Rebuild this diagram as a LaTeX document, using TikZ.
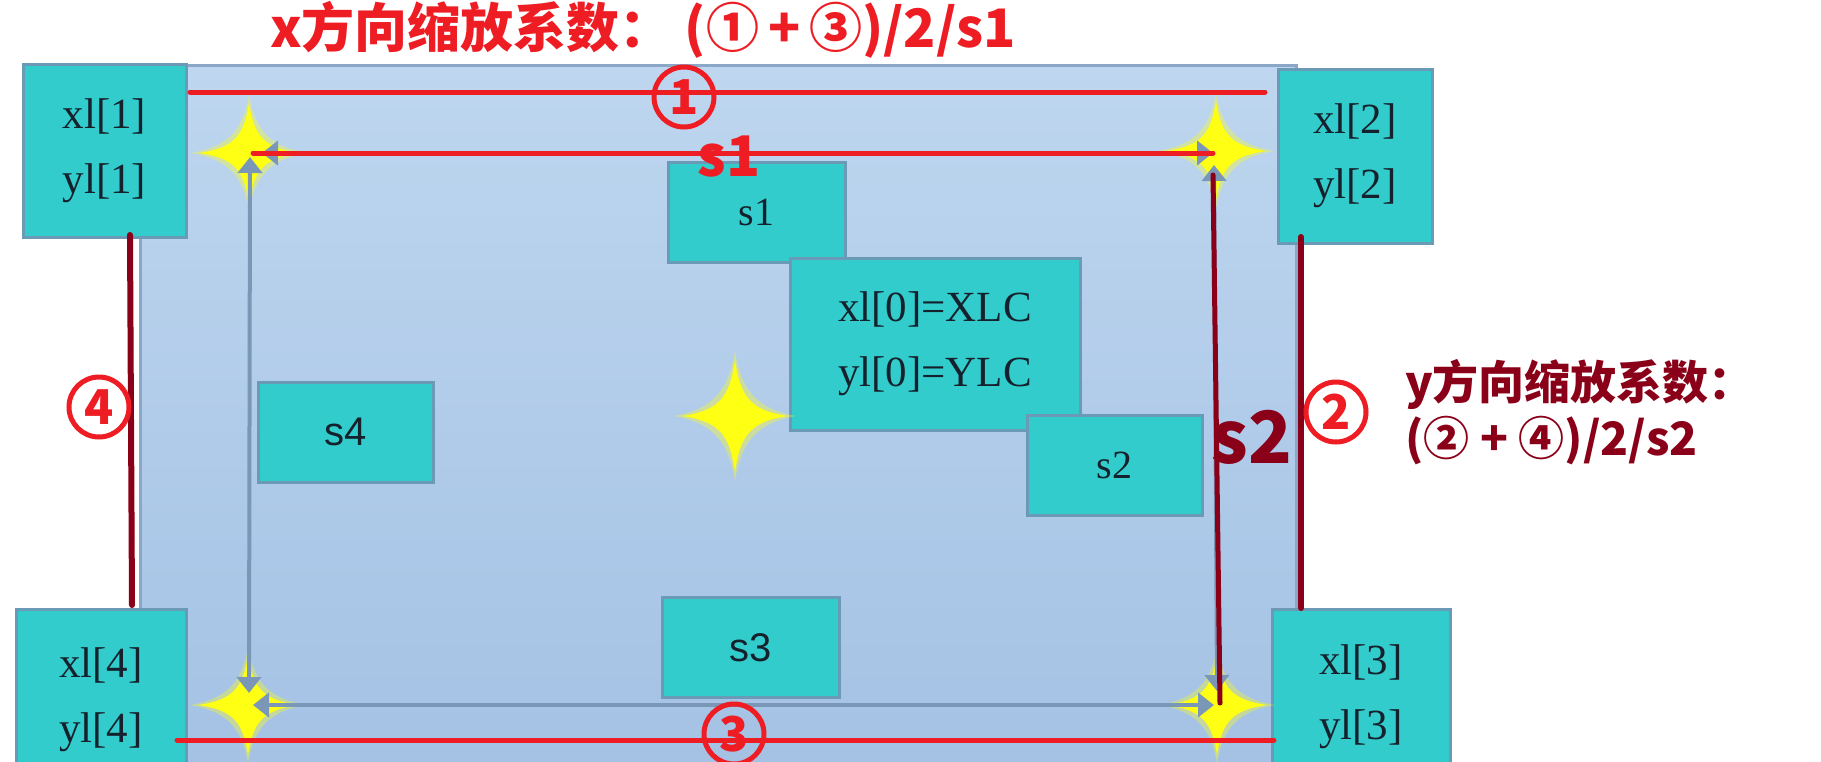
\documentclass[tikz,border=0pt]{standalone}
\usepackage{fontspec}
\setmainfont{Liberation Serif}
\newfontfamily\cjk{Noto Sans CJK SC}
\newfontfamily\lsans{Liberation Sans}
\usetikzlibrary{arrows.meta}
\definecolor{rectA}{HTML}{BED6EF}
\definecolor{rectB}{HTML}{A3C1E4}
\definecolor{rectBorder}{HTML}{8BA7C7}
\definecolor{tealfill}{HTML}{33CCCC}
\definecolor{tealline}{HTML}{6B9AB6}
\definecolor{boxtext}{HTML}{15222D}
\definecolor{arrowgray}{HTML}{7B97B8}
\definecolor{brightred}{HTML}{EE1D24}
\definecolor{darkred}{HTML}{8B0019}
\definecolor{staryellow}{HTML}{FFFF14}
\tikzset{
  sparkle/.pic={
    \fill[staryellow, opacity=0.35] (0,-58) .. controls (6,-22) and (22,-6) .. (58,0) .. controls (22,6) and (6,22) .. (0,58) .. controls (-6,22) and (-22,6) .. (-58,0) .. controls (-22,-6) and (-6,-22) .. cycle;
    \fill[staryellow] (0,-50) .. controls (5,-16) and (16,-5) .. (50,0) .. controls (16,5) and (5,16) .. (0,50) .. controls (-5,16) and (-16,5) .. (-50,0) .. controls (-16,-5) and (-5,-16) .. cycle;
  },
  tealbox/.style={draw=tealline, line width=3pt, fill=tealfill, text=boxtext, align=center, inner sep=0pt, font=\fontsize{43}{65}\selectfont},
  sbox/.style={tealbox, minimum height=100pt, font=\fontsize{40}{44}\selectfont},
  grayarrow/.style={draw=arrowgray, line width=4pt, {Triangle[length=16pt,width=24pt]}-{Triangle[length=16pt,width=24pt]}},
  redline/.style={draw=brightred, line width=5pt, line cap=round},
  darkline/.style={draw=darkred, line width=6pt, line cap=round},
  circlab/.style={circle, draw=brightred, line width=5pt, minimum size=60pt, inner sep=0pt, text=brightred, font=\fontsize{48}{48}\cjk\bfseries},
}
\begin{document}
\begin{tikzpicture}[x=1pt,y=-1pt]
\useasboundingbox (0,0) rectangle (1821,761);
\clip (0,0) rectangle (1821,761);
\fill[white] (0,0) rectangle (1821,761);
% big panel
\draw[rectBorder, line width=3pt, top color=rectA, bottom color=rectB] (140,65) rectangle (1296,800);
% teal boxes
\node[tealbox, minimum width=163pt, minimum height=173pt] (p1) at (104.5,150.5) {xl[1]\\yl[1]};
\node[tealbox, minimum width=154pt, minimum height=174pt] (p2) at (1355,156) {xl[2]\\yl[2]};
\node[tealbox, minimum width=170pt, minimum height=181pt] (p4) at (101,699.5) {xl[4]\\yl[4]};
\node[tealbox, minimum width=178pt, minimum height=176pt] (p3) at (1361,697) {xl[3]\\yl[3]};
\node[sbox, minimum width=177pt] (s1) at (756.5,212) {s1};
\node[tealbox, minimum width=290pt, minimum height=172pt] (p0) at (935,344) {xl[0]=XLC\\yl[0]=YLC};
\node[sbox, minimum width=175pt] (s2) at (1114.5,465) {s2};
\node[sbox, minimum width=175pt, font=\fontsize{40}{44}\lsans] (s4) at (345.5,432) {s4};
\node[sbox, minimum width=177pt, font=\fontsize{40}{44}\lsans] (s3) at (750.5,647.5) {s3};
% stars
\pic[xscale=1.05, yscale=1.12] at (735,416) {sparkle};
\pic at (249,153) {sparkle};
\pic at (1216,151) {sparkle};
\pic at (248,705) {sparkle};
\pic at (1217,705) {sparkle};
% corner coordinates
\coordinate (tlv) at (250,157);
\coordinate (blv) at (249,693);
\coordinate (tlh) at (262,153);
\coordinate (trh) at (1213,153);
\coordinate (trv) at (1214,165);
\coordinate (brv) at (1217,691);
\coordinate (blh) at (253,705);
\coordinate (brh) at (1214,705);
% gray arrows
\draw[grayarrow] (tlv) -- (blv);
\draw[grayarrow] (tlh) -- (trh);
\draw[grayarrow] (trv) -- (brv);
\draw[grayarrow] (blh) -- (brh);
% red measure lines
\coordinate (r1a) at (190,92);
\coordinate (r1b) at (1265,92);
\coordinate (s1a) at (253,153);
\coordinate (s1b) at (1213,153);
\coordinate (r3a) at (177,740);
\coordinate (r3b) at (1274,740);
\coordinate (r4a) at (130,235);
\coordinate (r4b) at (132,605);
\coordinate (r2a) at (1301,237);
\coordinate (r2b) at (1301,608);
\coordinate (s2a) at (1213,175);
\coordinate (s2b) at (1220,703);
\draw[redline] (r1a) -- (r1b);
\draw[redline] (s1a) -- (s1b);
\draw[redline] (r3a) -- (r3b);
\draw[darkline] (r4a) -- (r4b);
\draw[darkline] (r2a) -- (r2b);
\draw[darkline, line width=5pt] (s2a) -- (s2b);
% labels
\node[circlab] (c1) at (684,97) {1};
\node[circlab] (c3) at (734,734) {3};
\node[circlab] (c4) at (99,407) {4};
\node[circlab] (c2) at (1336,412) {2};
\node[inner sep=0pt, text=brightred, font=\fontsize{56}{56}\cjk\bfseries] (s1lab) at (729,157) {s1};
\node[inner sep=0pt, text=darkred, font=\fontsize{72}{72}\cjk\bfseries] (s2lab) at (1252,437) {s2};
\node[inner sep=0pt, anchor=west, text=brightred, font=\fontsize{53}{53}\cjk\bfseries] (title) at (270,30) {x方向缩放系数：\hspace{12pt}(①\hspace{9pt}+\hspace{9pt}③)/2/s1};
\node[inner sep=0pt, anchor=west, text=darkred, font=\fontsize{46}{46}\cjk\bfseries] (ylab1) at (1405,384) {y方向缩放系数：};
\node[inner sep=0pt, anchor=west, text=darkred, font=\fontsize{46}{46}\cjk\bfseries] (ylab2) at (1405,441) {(②~+~④)/2/s2};
\end{tikzpicture}
\end{document}
